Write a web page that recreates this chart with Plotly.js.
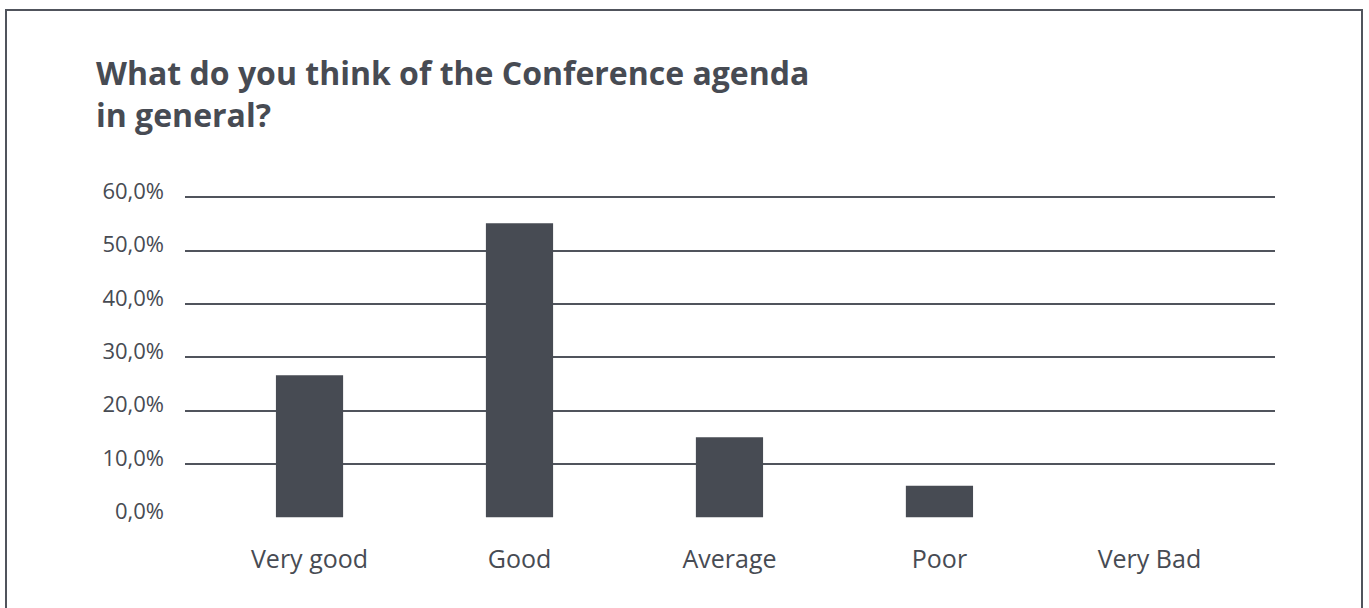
<!DOCTYPE html>
<html>
<head>
<meta charset="utf-8">
<script src="https://cdn.plot.ly/plotly-3.0.1.min.js"></script>
<style>
html,body{margin:0;padding:0;background:#fff;overflow:hidden;}
#wrap{position:relative;width:1369px;height:608px;}
#chart{position:absolute;left:0;top:0;width:1369px;height:608px;}
#frame{position:absolute;left:5px;top:9px;width:1354px;height:640px;border:2px solid #50545c;pointer-events:none;}
</style>
</head>
<body>
<div id="wrap"><div id="chart"></div><div id="frame"></div></div>
<script>
const categories = ["Very good", "Good", "Average", "Poor", "Very Bad"];
const values = [26.6, 55.1, 15.0, 5.9, 0.0];
const yTicks = [0, 10, 20, 30, 40, 50, 60];
const yTickLabels = ["0,0%", "10,0%", "20,0%", "30,0%", "40,0%", "50,0%", "60,0%"];
const titleText = "What do you think of the Conference agenda<br>in general?";

const ink = "#474b53";
const fontFam = "'Open Sans', 'Noto Sans', sans-serif";

Plotly.newPlot("chart", [{
  type: "bar",
  x: categories,
  y: values,
  marker: {color: ink, line: {width: 0}},
  hoverinfo: "skip"
}], {
  width: 1369, height: 608,
  margin: {l: 185, r: 94, t: 194, b: 90, pad: 0},
  paper_bgcolor: "#fff",
  plot_bgcolor: "#fff",
  bargap: 0.68,
  showlegend: false,
  font: {family: fontFam, color: ink},
  title: {
    text: "<b>" + titleText + "</b>",
    font: {family: fontFam, size: 32, color: ink},
    x: 96/1369, xref: "container", xanchor: "left",
    y: 1 - 85/608, yref: "container", yanchor: "top"
  },
  xaxis: {
    type: "category",
    range: [-0.593, 4.598],
    showgrid: false,
    zeroline: false,
    showline: false,
    ticks: "",
    ticklabelstandoff: 24,
    tickfont: {family: fontFam, size: 25, color: ink}
  },
  yaxis: {
    range: [-0.15, 60.6],
    tickvals: yTicks,
    ticktext: yTickLabels,
    showgrid: true,
    gridcolor: "#50545c",
    gridwidth: 2,
    zeroline: false,
    showline: false,
    ticks: "",
    ticklabelstandoff: 20,
    ticklabelshift: -6,
    tickfont: {family: fontFam, size: 22, color: ink}
  }
}, {displayModeBar: false, staticPlot: true});
</script>
</body>
</html>
